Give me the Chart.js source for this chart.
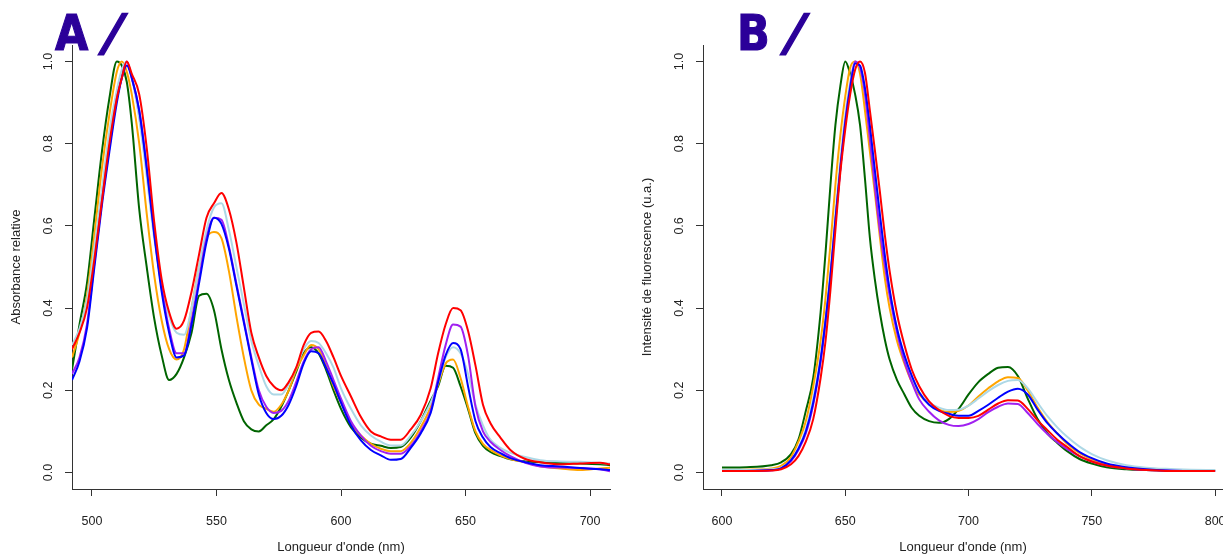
<!DOCTYPE html>
<html>
<head>
<meta charset="utf-8">
<script src="https://cdn.jsdelivr.net/npm/chart.js@4.4.1/dist/chart.umd.min.js"></script>
<style>
  body { margin: 0; background: #fff; width: 1223px; height: 555px; overflow: hidden; position: relative; }
  canvas { position: absolute; top: 0; }
  .tag { position: absolute; top: 8px; font: bold 50px/50px "DejaVu Sans", sans-serif; color: #2b0099;
         -webkit-text-stroke: 1.2px #2b0099; }
  .letter { transform: scaleX(0.86); transform-origin: left center; }
  .slash { transform: skewX(-15deg); -webkit-text-stroke: 1.5px #2b0099; }
</style>
</head>
<body>
<canvas id="chartA" width="612" height="555" style="left:0"></canvas>
<canvas id="chartB" width="612" height="555" style="left:611px"></canvas>
<div class="tag letter" style="left:55px">A</div>
<div class="tag slash" style="left:104px">/</div>
<div class="tag letter" style="left:737px">B</div>
<div class="tag slash" style="left:786px">/</div>
<script>
// ---- A : absorbance spectra ----
const wlA = [492, 495, 498, 501, 504, 507, 510, 512, 514, 516, 519, 522, 525, 528, 531, 534, 537, 540,
  543, 546, 549, 552, 555, 558, 561, 564, 567, 570, 573, 576, 579, 582, 585, 588, 591, 594, 597, 600,
  604, 608, 612, 616, 620, 624, 628, 632, 636, 639, 642, 645, 648, 651, 654, 657, 660,
  664, 668, 674, 680, 688, 696, 704, 708];
const greenA = [0.25, 0.36, 0.46, 0.62, 0.78, 0.91, 1.0, 0.99, 0.95, 0.85, 0.64, 0.50, 0.375, 0.285, 0.225, 0.24, 0.28, 0.34,
  0.43, 0.435, 0.395, 0.30, 0.225, 0.17, 0.125, 0.105, 0.10, 0.115, 0.13, 0.16, 0.20, 0.245, 0.29, 0.305, 0.29, 0.25, 0.20, 0.155,
  0.11, 0.085, 0.07, 0.065, 0.06, 0.062, 0.085, 0.125, 0.175, 0.21, 0.26, 0.255, 0.21, 0.155, 0.095, 0.065, 0.05,
  0.04, 0.032, 0.027, 0.025, 0.023, 0.022, 0.02, 0.018];
const orangeA = [0.28, 0.34, 0.43, 0.58, 0.74, 0.87, 0.975, 1.0, 0.975, 0.92, 0.80, 0.63, 0.48, 0.37, 0.30, 0.275, 0.30, 0.40,
  0.50, 0.57, 0.585, 0.57, 0.49, 0.38, 0.28, 0.20, 0.165, 0.155, 0.148, 0.165, 0.20, 0.25, 0.285, 0.31, 0.30, 0.26, 0.21, 0.17,
  0.12, 0.09, 0.07, 0.058, 0.052, 0.052, 0.072, 0.11, 0.16, 0.215, 0.265, 0.275, 0.23, 0.16, 0.10, 0.07, 0.055,
  0.042, 0.033, 0.025, 0.015, 0.01, 0.006, 0.01, 0.012];
const lightblueA = [0.31, 0.35, 0.42, 0.55, 0.69, 0.83, 0.93, 0.98, 1.0, 0.96, 0.86, 0.72, 0.57, 0.46, 0.38, 0.34, 0.335, 0.40,
  0.50, 0.59, 0.645, 0.655, 0.59, 0.50, 0.41, 0.32, 0.26, 0.21, 0.19, 0.19, 0.215, 0.255, 0.30, 0.32, 0.315, 0.29, 0.255, 0.205,
  0.155, 0.115, 0.09, 0.075, 0.066, 0.066, 0.09, 0.125, 0.17, 0.22, 0.28, 0.305, 0.29, 0.24, 0.165, 0.115, 0.08,
  0.06, 0.048, 0.038, 0.03, 0.027, 0.026, 0.023, 0.022];
const purpleA = [0.24, 0.28, 0.36, 0.51, 0.66, 0.79, 0.91, 0.96, 1.0, 0.96, 0.88, 0.745, 0.585, 0.45, 0.35, 0.29, 0.29, 0.37,
  0.47, 0.57, 0.62, 0.615, 0.55, 0.46, 0.37, 0.28, 0.20, 0.16, 0.145, 0.15, 0.175, 0.22, 0.27, 0.30, 0.305, 0.27, 0.225, 0.18,
  0.125, 0.09, 0.065, 0.052, 0.046, 0.046, 0.065, 0.10, 0.15, 0.23, 0.31, 0.36, 0.355, 0.285, 0.16, 0.10, 0.075,
  0.055, 0.04, 0.024, 0.015, 0.012, 0.011, 0.008, 0.003];
const blueA = [0.225, 0.27, 0.35, 0.50, 0.65, 0.78, 0.90, 0.96, 0.99, 0.96, 0.88, 0.74, 0.58, 0.44, 0.34, 0.28, 0.285, 0.36,
  0.46, 0.56, 0.62, 0.605, 0.545, 0.455, 0.365, 0.275, 0.19, 0.145, 0.13, 0.138, 0.165, 0.21, 0.265, 0.295, 0.29, 0.255, 0.215, 0.17,
  0.115, 0.078, 0.055, 0.042, 0.031, 0.033, 0.06, 0.095, 0.145, 0.22, 0.285, 0.315, 0.30, 0.21, 0.125, 0.085, 0.062,
  0.047, 0.035, 0.025, 0.018, 0.015, 0.011, 0.008, 0.006];
const redA = [0.30, 0.34, 0.40, 0.52, 0.66, 0.80, 0.91, 0.96, 1.0, 0.97, 0.92, 0.79, 0.61, 0.47, 0.39, 0.35, 0.37, 0.44,
  0.53, 0.62, 0.655, 0.68, 0.64, 0.56, 0.45, 0.34, 0.28, 0.235, 0.21, 0.20, 0.22, 0.255, 0.31, 0.34, 0.343, 0.32, 0.28, 0.235,
  0.185, 0.135, 0.10, 0.088, 0.08, 0.08, 0.105, 0.14, 0.205, 0.29, 0.36, 0.40, 0.395, 0.345, 0.26, 0.165, 0.12,
  0.085, 0.055, 0.033, 0.025, 0.02, 0.022, 0.024, 0.02];

// ---- B : fluorescence spectra ----
const wlB = [600, 610, 620, 624, 628, 631, 634, 637, 640, 642, 644, 646, 648, 650, 652, 654, 656, 658, 660,
  662, 664, 666, 668, 671, 674, 677, 680, 684, 688, 692, 696, 700, 704, 708, 712, 716, 720,
  724, 728, 732, 736, 740, 745, 750, 756, 764, 772, 780, 790, 800];
const greenB = [0.012, 0.013, 0.018, 0.025, 0.045, 0.08, 0.15, 0.23, 0.39, 0.535, 0.70, 0.845, 0.94, 1.0, 0.97, 0.92, 0.845, 0.714, 0.57,
  0.47, 0.39, 0.325, 0.275, 0.225, 0.19, 0.157, 0.138, 0.125, 0.121, 0.13, 0.155, 0.19, 0.22, 0.24, 0.255, 0.257, 0.235,
  0.18, 0.13, 0.095, 0.072, 0.052, 0.033, 0.022, 0.013, 0.008, 0.006, 0.005, 0.005, 0.005];
const orangeB = [0.006, 0.007, 0.01, 0.016, 0.038, 0.075, 0.125, 0.21, 0.32, 0.425, 0.555, 0.70, 0.82, 0.915, 0.985, 1.0, 0.97, 0.88, 0.78,
  0.68, 0.575, 0.475, 0.40, 0.32, 0.265, 0.22, 0.19, 0.168, 0.153, 0.147, 0.15, 0.163, 0.185, 0.205, 0.222, 0.232, 0.23,
  0.20, 0.158, 0.123, 0.095, 0.07, 0.047, 0.032, 0.02, 0.012, 0.008, 0.006, 0.005, 0.005];
const lightblueB = [0.006, 0.006, 0.008, 0.012, 0.03, 0.06, 0.105, 0.18, 0.28, 0.375, 0.49, 0.63, 0.76, 0.87, 0.95, 1.0, 0.985, 0.925, 0.83,
  0.73, 0.625, 0.525, 0.44, 0.35, 0.28, 0.23, 0.195, 0.17, 0.158, 0.152, 0.153, 0.163, 0.18, 0.198, 0.213, 0.223, 0.225,
  0.205, 0.17, 0.137, 0.11, 0.087, 0.063, 0.045, 0.03, 0.018, 0.012, 0.009, 0.007, 0.006];
const purpleB = [0.004, 0.004, 0.005, 0.01, 0.028, 0.055, 0.095, 0.165, 0.27, 0.365, 0.475, 0.61, 0.74, 0.855, 0.94, 1.0, 0.985, 0.92, 0.81,
  0.695, 0.59, 0.505, 0.43, 0.34, 0.27, 0.22, 0.178, 0.148, 0.127, 0.116, 0.113, 0.118, 0.13, 0.147, 0.16, 0.168, 0.167,
  0.145, 0.118, 0.094, 0.074, 0.057, 0.04, 0.027, 0.017, 0.01, 0.006, 0.005, 0.004, 0.004];
const blueB = [0.004, 0.004, 0.006, 0.01, 0.03, 0.058, 0.10, 0.17, 0.275, 0.37, 0.48, 0.615, 0.74, 0.85, 0.935, 0.995, 0.99, 0.935, 0.843,
  0.735, 0.63, 0.53, 0.445, 0.35, 0.285, 0.235, 0.195, 0.165, 0.15, 0.143, 0.138, 0.138, 0.15, 0.165, 0.182, 0.197, 0.204,
  0.19, 0.153, 0.12, 0.095, 0.073, 0.05, 0.035, 0.022, 0.013, 0.008, 0.005, 0.004, 0.004];
const redB = [0.004, 0.004, 0.005, 0.008, 0.02, 0.04, 0.075, 0.13, 0.23, 0.32, 0.445, 0.59, 0.73, 0.835, 0.92, 0.98, 1.0, 0.972, 0.88,
  0.785, 0.685, 0.58, 0.49, 0.385, 0.31, 0.25, 0.21, 0.173, 0.152, 0.138, 0.133, 0.133, 0.138, 0.153, 0.168, 0.176, 0.175,
  0.155, 0.127, 0.103, 0.08, 0.062, 0.04, 0.027, 0.017, 0.01, 0.006, 0.004, 0.004, 0.004];

const colours = ['darkgreen', 'orange', 'lightblue', '#A020F0', 'blue', 'red'];
const yTicks = [0, 0.2, 0.4, 0.6, 0.8, 1.0];
const font = '"Liberation Sans", Arial, sans-serif';
const axisCol = '#333';

// R style labels on the y axis, turned a quarter
const yLabels = {
  id: 'yLabels',
  afterDraw(chart) {
    const s = chart.scales.y;
    const ctx = chart.ctx;
    ctx.save();
    ctx.font = '12.5px ' + font;
    ctx.fillStyle = '#222';
    ctx.textAlign = 'center';
    ctx.textBaseline = 'middle';
    yTicks.forEach(v => {
      ctx.save();
      ctx.translate(s.right - 23, s.getPixelForValue(v));
      ctx.rotate(-Math.PI / 2);
      ctx.fillText(v.toFixed(1), 0, 0);
      ctx.restore();
    });
    ctx.restore();
  }
};

function makeChart(id, wl, series, xmin, xmax, yWidth, padRight, yTitle, yTitlePad) {
  // first dataset ends on top, so red goes first
  const datasets = series.map((vals, i) => ({
    data: wl.map((x, j) => ({x: x, y: vals[j]})),
    borderColor: colours[i],
    borderWidth: 2,
    pointRadius: 0,
    cubicInterpolationMode: 'monotone',
    fill: false
  })).reverse();

  return new Chart(document.getElementById(id), {
    type: 'line',
    data: {datasets: datasets},
    plugins: [yLabels],
    options: {
      responsive: false,
      animation: false,
      layout: {padding: {top: 45, right: padRight, left: 0, bottom: 0}},
      plugins: {legend: {display: false}, tooltip: {enabled: false}},
      scales: {
        x: {
          type: 'linear', min: xmin, max: xmax,
          afterFit(s) { s.height = 66; s.paddingLeft = 0; s.paddingRight = 0; },
          ticks: {stepSize: 50, includeBounds: false, padding: 18, maxRotation: 0, autoSkip: false,
                  color: '#222', font: {family: font, size: 12.5}},
          grid: {drawOnChartArea: false, tickLength: 7, color: axisCol},
          border: {color: axisCol},
          title: {display: true, text: "Longueur d'onde (nm)", color: '#222',
                  font: {family: font, size: 13}, padding: {top: 0, bottom: 0}}
        },
        y: {
          min: -0.04, max: 1.04,
          afterFit(s) { s.width = yWidth; s.paddingTop = 0; s.paddingBottom = 0; },
          ticks: {stepSize: 0.2, includeBounds: false, display: false},
          grid: {drawOnChartArea: false, tickLength: 7, color: axisCol},
          border: {color: axisCol},
          title: {display: true, text: yTitle, color: '#222',
                  font: {family: font, size: 13}, padding: {top: yTitlePad, bottom: 0}}
        }
      }
    }
  });
}

makeChart('chartA', wlA, [greenA, orangeA, lightblueA, purpleA, blueA, redA],
  492, 708, 72, 2, 'Absorbance relative', 9);
makeChart('chartB', wlB, [greenB, orangeB, lightblueB, purpleB, blueB, redB],
  592.3, 803.2, 92, 0, 'Intensité de fluorescence (u.a.)', 29);
</script>
</body>
</html>
